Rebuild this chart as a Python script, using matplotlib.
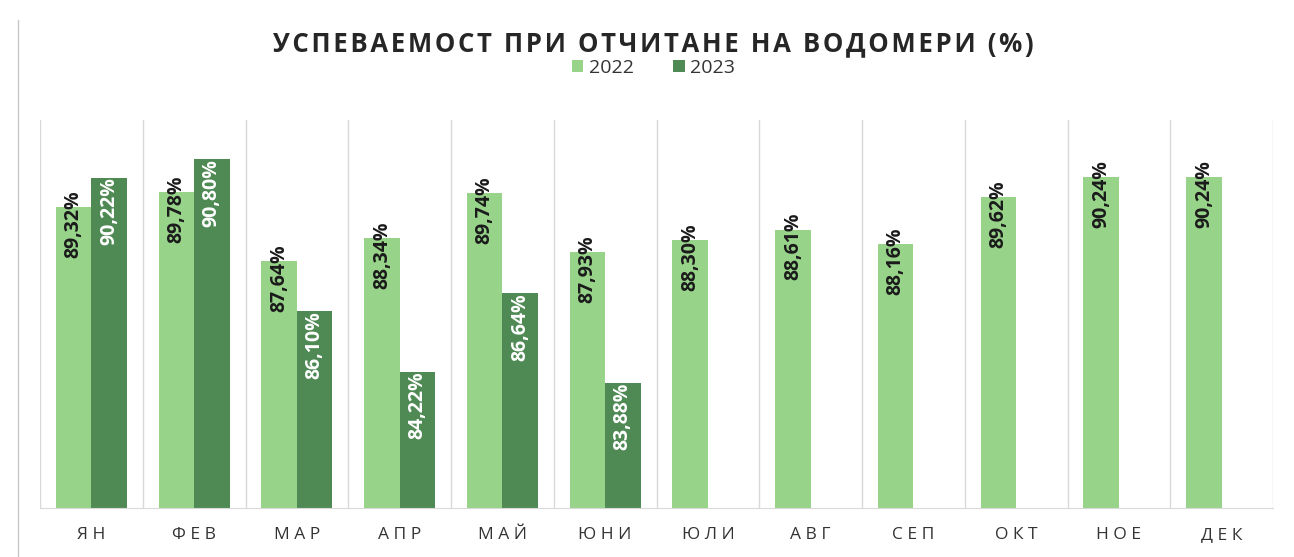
import matplotlib
matplotlib.use("Agg")
import matplotlib.pyplot as plt
import numpy as np
from matplotlib.lines import Line2D

# данни от графиката
meseci = ["ЯН", "ФЕВ", "МАР", "АПР", "МАЙ", "ЮНИ", "ЮЛИ", "АВГ", "СЕП", "ОКТ", "НОЕ", "ДЕК"]
god_2022 = [89.32, 89.78, 87.64, 88.34, 89.74, 87.93, 88.30, 88.61, 88.16, 89.62, 90.24, 90.24]
god_2023 = [90.22, 90.80, 86.10, 84.22, 86.64, 83.88]
serii = ["2022", "2023"]

svetlo = "#98d38a"
tamno = "#4f8a55"
tekst = "#333333"

plt.rcParams['font.family'] = ['Open Sans', 'DejaVu Sans']

fig = plt.figure(figsize=(12.94, 5.57), dpi=100)
ax = fig.add_axes([40 / 1294, 49 / 557, 1233 / 1294, 388 / 557])

x = np.arange(len(meseci))
w = 0.345
b1 = ax.bar(x - w / 2, god_2022, w, color=svetlo, label=serii[0])
x2 = np.arange(len(god_2023))
b2 = ax.bar(x2 + w / 2, god_2023, w, color=tamno, label=serii[1])

ax.set_ylim(80, 92)
ax.set_xlim(-0.5, len(meseci) - 0.5)

def fmt(v):
    return f"{v:.2f}".replace(".", ",") + "%"

for xi, v in zip(x, god_2022):
    ax.annotate(fmt(v), (xi - w / 2, v), xytext=(0, 12), textcoords="offset points",
                rotation=90, ha="center", va="top", fontsize=14, fontweight="bold",
                color="#1a1a1a")
for xi, v in zip(x2, god_2023):
    ax.annotate(fmt(v), (xi + w / 2, v), xytext=(0, 0), textcoords="offset points",
                rotation=90, ha="center", va="top", fontsize=14, fontweight="bold",
                color="white")

# вертикални линии между месеците
for g in np.arange(len(meseci) + 1) - 0.5:
    ax.axvline(g, color="#d9d9d9", lw=1, zorder=0)

for s in ["top", "right", "left"]:
    ax.spines[s].set_visible(False)
ax.spines["bottom"].set_color("#d9d9d9")
ax.set_yticks([])
ax.set_xticks(x)
ax.set_xticklabels([" ".join(m) for m in meseci], fontsize=12.5, color=tekst)
ax.tick_params(axis="x", length=0, pad=14)

naslov = "\u200a".join("УСПЕВАЕМОСТ ПРИ ОТЧИТАНЕ НА ВОДОМЕРИ (%)")
fig.text(0.505, 1 - 44 / 557, naslov, ha="center", va="center", fontsize=18.5,
         fontweight="bold", color="#262626")

fig.legend(handles=[b1, b2], labels=serii, loc="center", bbox_to_anchor=(0.505, 1 - 68 / 557),
           ncol=2, frameon=False, fontsize=14, handlelength=0.6, handleheight=0.6,
           handletextpad=0.3, columnspacing=2.0, labelcolor=tekst)

# лява рамка
fig.add_artist(Line2D([18 / 1294, 18 / 1294], [0, 1 - 20 / 557], color="#c8c8c8", lw=1))

fig.savefig("out.png", dpi=100)
